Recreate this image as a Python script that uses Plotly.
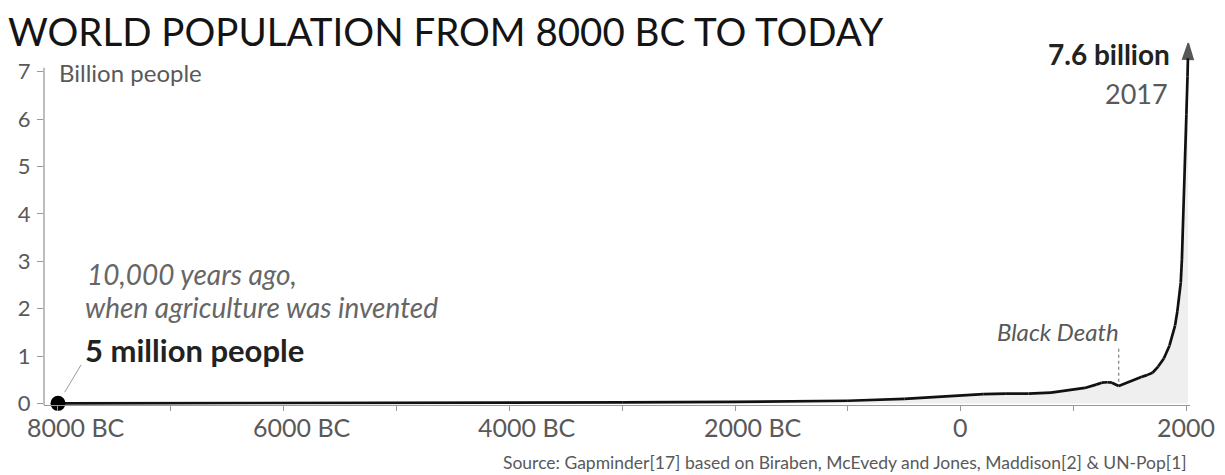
import plotly.graph_objects as go

# World population estimates, billions
years = [-8000, -7000, -6000, -5000, -4000, -3000, -2000, -1000, -500, 0,
         200, 400, 600, 800, 1000, 1100, 1200, 1250, 1300, 1340, 1400,
         1500, 1600, 1650, 1700, 1750, 1800, 1850, 1900, 1920, 1940, 1950,
         1960, 1970, 1980, 1990, 2000, 2010, 2017]
population = [0.005, 0.007, 0.009, 0.013, 0.018, 0.025, 0.035, 0.06, 0.10, 0.18,
              0.20, 0.21, 0.21, 0.23, 0.29, 0.33, 0.40, 0.44, 0.45, 0.44, 0.37,
              0.47, 0.56, 0.60, 0.65, 0.78, 0.95, 1.22, 1.65, 1.95, 2.30, 2.55,
              3.03, 3.70, 4.45, 5.30, 6.10, 6.90, 7.60]

x_tickvals = [-8000, -7000, -6000, -5000, -4000, -3000, -2000, -1000, 0, 1000, 2000]
x_label_vals = [-8000, -6000, -4000, -2000, 0, 2000]
x_label_text = ["8000 BC", "6000 BC", "4000 BC", "2000 BC", "0", "2000"]
y_tickvals = [0, 1, 2, 3, 4, 5, 6, 7]

black_death_year = 1400
bd_pop = population[years.index(black_death_year)]

FONT = "Lato, 'Open Sans', sans-serif"
GREY = "#595959"
LIGHT = "#666666"

fig = go.Figure()

# main curve with grey fill and an arrow head on the last point
marker_sizes = [0] * (len(years) - 1) + [17]
fig.add_trace(go.Scatter(
    x=years, y=population, mode="lines+markers",
    line=dict(color="#111111", width=2.7),
    fill="tozeroy", fillcolor="#efefef",
    marker=dict(symbol="arrow", angleref="previous", size=marker_sizes,
                color="#111111", line=dict(width=1.5, color="#111111")),
    cliponaxis=False, hoverinfo="skip",
))

# starting dot
fig.add_trace(go.Scatter(
    x=[years[0]], y=[population[0]], mode="markers",
    marker=dict(size=15, color="#000000"), cliponaxis=False,
))

# Black Death dotted marker
fig.add_trace(go.Scatter(
    x=[black_death_year, black_death_year], y=[bd_pop + 0.09, 1.21],
    mode="lines", line=dict(color="#888888", width=1.3, dash="dot"),
))

annotations = [
    dict(x=0.0113, y=0.902, text="Billion people", xanchor="left",
         font=dict(size=24, color=GREY)),
    dict(x=0.9843, y=0.951, text="<b>7.6 billion</b>", xanchor="right",
         font=dict(size=28, color="#222222")),
    dict(x=0.9825, y=0.843, text="2017", xanchor="right",
         font=dict(size=27, color=GREY)),
    dict(x=0.0358, y=0.355, text="10,000 years ago,", xanchor="left",
         font=dict(size=28, color=LIGHT, style="italic")),
    dict(x=0.034, y=0.266, text="when agriculture was invented", xanchor="left",
         font=dict(size=28, color=LIGHT, style="italic")),
    dict(x=0.034, y=0.150, text="<b>5 million people</b>", xanchor="left",
         font=dict(size=31, color="#222222")),
    dict(x=0.8848, y=0.2, text="Black Death", xanchor="center",
         font=dict(size=24, color=GREY, style="italic")),
    dict(x=0.999, y=-0.156, text="Source: Gapminder[17] based on Biraben, McEvedy and Jones, "
         "Maddison[2] & UN-Pop[1]", xanchor="right",
         font=dict(size=17.5, color=GREY)),
]
for a in annotations:
    a.update(xref="paper", yref="paper", yanchor="middle", showarrow=False)

# x tick labels: the BC ones have their number centred under the tick
for val, txt in zip(x_label_vals, x_label_text):
    annotations.append(dict(
        x=val, y=-0.06, xref="x", yref="paper", text=txt, showarrow=False,
        xanchor="center", yanchor="middle", xshift=18 if "BC" in txt else 0,
        font=dict(size=25, color=GREY),
    ))

# leader line from the dot to the label
annotations.append(dict(
    x=years[0], y=population[0], xref="x", yref="y", text="",
    showarrow=True, arrowhead=0, arrowwidth=1, arrowcolor="#9a9a9a",
    ax=24, ay=-40, standoff=13,
))

# the page adds an 8px body margin, so the figure is 8px smaller each way
fig.update_layout(
    width=1217, height=467,
    paper_bgcolor="white", plot_bgcolor="white",
    showlegend=False,
    font=dict(family=FONT, color=GREY),
    margin=dict(l=36, r=35, t=28, b=70, autoexpand=False),
    title=dict(text="WORLD POPULATION FROM 8000 BC TO TODAY",
               x=0.0, xanchor="left", xref="container",
               y=0.947, yanchor="middle", yref="container",
               pad=dict(l=0, r=0, t=0, b=0),
               font=dict(size=38.5, color="#141414", family=FONT)),
    xaxis=dict(range=[-8124, 2032], tickvals=x_tickvals, showticklabels=False,
               showgrid=False, zeroline=False, showline=True, linecolor="#999999",
               linewidth=1.3, ticks="outside", ticklen=5, tickcolor="#999999",
               automargin=False),
    yaxis=dict(range=[-0.03, 7.75], tickvals=y_tickvals, showgrid=False,
               zeroline=False, showline=False, ticks="outside", ticklen=6,
               tickcolor="#999999", ticklabelstandoff=2, automargin=False,
               tickfont=dict(size=22, color=GREY)),
    annotations=annotations,
    shapes=[dict(type="line", xref="paper", yref="y", x0=0, x1=0, y0=-0.03, y1=7.08,
                 line=dict(color="#999999", width=1.3))],
)

fig.write_html("out.html")
